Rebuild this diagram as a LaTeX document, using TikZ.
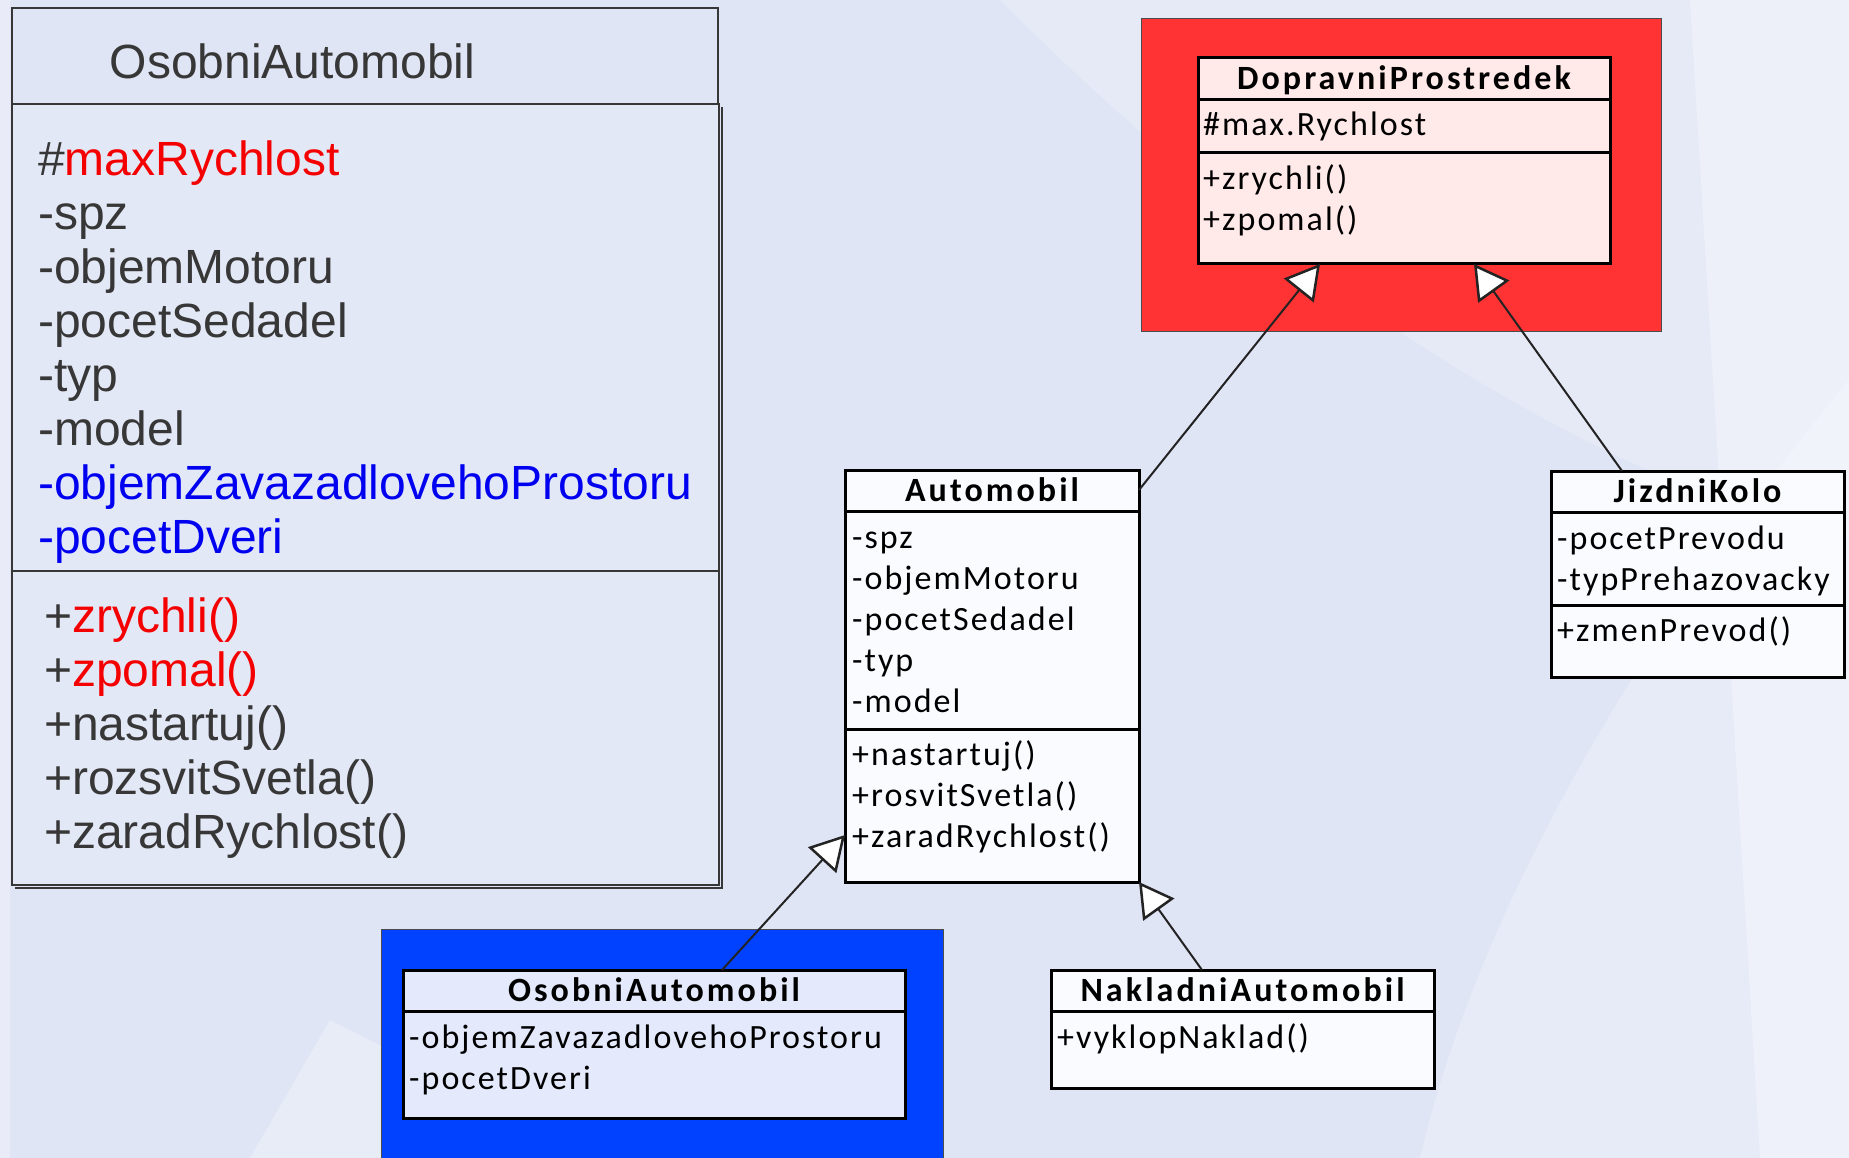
\documentclass[tikz,border=0pt]{standalone}
\usepackage{fontspec}
\setmainfont{Liberation Sans}
\newfontfamily\umlfont{Carlito}[LetterSpace=6]
\newfontfamily\umlboldfont{Carlito Bold}[LetterSpace=9]
\usetikzlibrary{arrows.meta,calc}

\definecolor{bgbase}{RGB}{224,229,245}
\definecolor{inkgray}{RGB}{55,55,55}
\definecolor{hotred}{RGB}{245,0,0}
\definecolor{deepblue}{RGB}{0,0,240}
\definecolor{redback}{RGB}{255,51,51}
\definecolor{blueback}{RGB}{0,66,255}
\definecolor{pinkfill}{RGB}{255,233,233}
\definecolor{paleblue}{RGB}{228,234,252}
\definecolor{whitefill}{RGB}{250,251,255}
\definecolor{wire}{RGB}{35,35,35}

\tikzset{
  bigtxt/.style={anchor=base west, inner sep=0pt, text=inkgray,
                 font=\fontsize{48}{54}\selectfont},
  umltxt/.style={anchor=base west, inner sep=0pt, text=black,
                 font=\umlfont\fontsize{34}{41}\selectfont},
  umltitle/.style={anchor=base, inner sep=0pt, text=black,
                 font=\umlboldfont\fontsize{34}{41}\selectfont},
  classbox/.style={rectangle, draw=black, line width=3pt, anchor=north west,
                 inner sep=0pt, outer sep=0pt},
  divider/.style={draw=black, line width=3pt},
  backdrop/.style={draw=black!70, line width=1pt},
  inherit/.style={draw=wire, line width=2pt,
                 -{Triangle[open, length=34pt, width=38pt, fill=white, line width=2.5pt]}},
}

\begin{document}
\begin{tikzpicture}[x=1pt, y=-1pt]
\useasboundingbox (0,0) rectangle (1849,1158);

% slide background with soft lighter sweeps
\fill[bgbase] (0,0) rectangle (1849,1158);
\fill[white, opacity=0.22] (1000,0) .. controls (1300,300) and (1600,480) .. (1849,540) -- (1849,0) -- cycle;
\fill[white, opacity=0.25] (1849,380) .. controls (1650,620) and (1480,900) .. (1420,1158) -- (1849,1158) -- cycle;
\fill[white, opacity=0.30] (1690,0) -- (1849,0) -- (1849,1158) -- (1760,1158) -- cycle;
\fill[white, opacity=0.28] (330,1020) -- (600,1158) -- (250,1158) -- cycle;
\fill[white, opacity=0.30] (0,0) rectangle (10,1158);

% ---------- large class card on the left ----------
\node[rectangle, draw=inkgray, line width=1.2pt, anchor=north west, inner sep=0pt,
      outer sep=0pt, minimum width=706, minimum height=96] (bigtitle) at (12,8) {};
\node[rectangle, draw=inkgray, line width=1.5pt, fill=white, fill opacity=0.12,
      anchor=north west, inner sep=0pt, outer sep=0pt,
      minimum width=707, minimum height=781] (bigbody) at (12,104) {};
\draw[inkgray, line width=1.2pt] ($(bigbody.north east)+(3,3)$) -- ($(bigbody.south east)+(3,3)$)
      -- ($(bigbody.south west)+(3,3)$);
\draw[inkgray, line width=1.5pt] ($(bigbody.north west)+(0,467)$) -- ($(bigbody.north east)+(0,467)$);

\node[bigtxt] (bigname) at (109.5,78.5) {OsobniAutomobil};

\node[bigtxt] (bigA1) at (38,175.5) {\#\textcolor{hotred}{maxRychlost}};
\node[bigtxt] (bigA2) at (38,229.5) {-spz};
\node[bigtxt] (bigA3) at (38,283.5) {-objemMotoru};
\node[bigtxt] (bigA4) at (38,337.5) {-pocetSedadel};
\node[bigtxt] (bigA5) at (38,391.5) {-typ};
\node[bigtxt] (bigA6) at (38,445.5) {-model};
\node[bigtxt, text=deepblue] (bigA7) at (38,499.5) {-objemZavazadlovehoProstoru};
\node[bigtxt, text=deepblue] (bigA8) at (38,553.5) {-pocetDveri};

\node[bigtxt] (bigM1) at (44,632) {+\textcolor{hotred}{zrychli()}};
\node[bigtxt] (bigM2) at (44,686) {+\textcolor{hotred}{zpomal()}};
\node[bigtxt] (bigM3) at (44,740) {+nastartuj()};
\node[bigtxt] (bigM4) at (44,794) {+rozsvitSvetla()};
\node[bigtxt] (bigM5) at (44,848) {+zaradRychlost()};

% ---------- coloured backdrops ----------
\fill[redback] (1141,19) rectangle (1661,331);
\draw[backdrop] (1141,19) rectangle (1661,331);
\fill[blueback] (381,929) rectangle (943,1160);
\draw[backdrop] (381,1160) -- (381,929) -- (943,929) -- (943,1160);

% ---------- DopravniProstredek ----------
\node[classbox, fill=pinkfill, minimum width=412, minimum height=206] (dp) at (1198,58) {};
\draw[divider] ($(dp.north west)+(0,42)$) -- ($(dp.north east)+(0,42)$);
\draw[divider] ($(dp.north west)+(0,95)$) -- ($(dp.north east)+(0,95)$);
\node[umltitle] (dpT) at ($(dp.north)+(0,32)$) {DopravniProstredek};
\node[umltxt] (dpA1) at ($(dp.north west)+(5,78)$) {\#max.Rychlost};
\node[umltxt] (dpM1) at ($(dp.north west)+(5,132)$) {+zrychli()};
\node[umltxt] (dpM2) at ($(dp.north west)+(5,173)$) {+zpomal()};

% ---------- Automobil ----------
\node[classbox, fill=whitefill, minimum width=294, minimum height=412] (auto) at (845,470) {};
\draw[divider] ($(auto.north west)+(0,41)$) -- ($(auto.north east)+(0,41)$);
\draw[divider] ($(auto.north west)+(0,259)$) -- ($(auto.north east)+(0,259)$);
\node[umltitle] (autoT) at ($(auto.north)+(0,31.5)$) {Automobil};
\node[umltxt] (autoA1) at ($(auto.north west)+(7,78)$) {-spz};
\node[umltxt] (autoA2) at ($(auto.north west)+(7,119)$) {-objemMotoru};
\node[umltxt] (autoA3) at ($(auto.north west)+(7,160)$) {-pocetSedadel};
\node[umltxt] (autoA4) at ($(auto.north west)+(7,201)$) {-typ};
\node[umltxt] (autoA5) at ($(auto.north west)+(7,242)$) {-model};
\node[umltxt] (autoM1) at ($(auto.north west)+(7,295)$) {+nastartuj()};
\node[umltxt] (autoM2) at ($(auto.north west)+(7,336)$) {+rosvitSvetla()};
\node[umltxt] (autoM3) at ($(auto.north west)+(7,377)$) {+zaradRychlost()};

% ---------- JizdniKolo ----------
\node[classbox, fill=whitefill, minimum width=293, minimum height=206] (jk) at (1551,471) {};
\draw[divider] ($(jk.north west)+(0,41)$) -- ($(jk.north east)+(0,41)$);
\draw[divider] ($(jk.north west)+(0,134)$) -- ($(jk.north east)+(0,134)$);
\node[umltitle] (jkT) at ($(jk.north)+(0,31)$) {JizdniKolo};
\node[umltxt] (jkA1) at ($(jk.north west)+(6,78)$) {-pocetPrevodu};
\node[umltxt] (jkA2) at ($(jk.north west)+(6,119)$) {-typPrehazovacky};
\node[umltxt] (jkM1) at ($(jk.north west)+(6,170)$) {+zmenPrevod()};

% ---------- OsobniAutomobil ----------
\node[classbox, fill=paleblue, minimum width=502, minimum height=148] (oa) at (403,970) {};
\draw[divider] ($(oa.north west)+(0,41)$) -- ($(oa.north east)+(0,41)$);
\node[umltitle] (oaT) at ($(oa.north)+(0,31.5)$) {OsobniAutomobil};
\node[umltxt] (oaA1) at ($(oa.north west)+(6,78)$) {-objemZavazadlovehoProstoru};
\node[umltxt] (oaA2) at ($(oa.north west)+(6,119)$) {-pocetDveri};

% ---------- NakladniAutomobil ----------
\node[classbox, fill=whitefill, minimum width=383, minimum height=118] (na) at (1051,970) {};
\draw[divider] ($(na.north west)+(0,41)$) -- ($(na.north east)+(0,41)$);
\node[umltitle] (naT) at ($(na.north)+(0,31.5)$) {NakladniAutomobil};
\node[umltxt] (naM1) at ($(na.north west)+(6,78)$) {+vyklopNaklad()};

% ---------- generalisation arrows ----------
\draw[inherit] ($(auto.north east)+(0,20)$) -- ($(dp.south west)+(122,0)$);
\draw[inherit] ($(jk.north west)+(71,0)$) -- ($(dp.south west)+(276,0)$);
\draw[inherit] ($(oa.north west)+(319,0)$) -- ($(auto.south west)+(0,-47)$);
\draw[inherit] ($(na.north west)+(151,0)$) -- (auto.south east);
\end{tikzpicture}
\end{document}
